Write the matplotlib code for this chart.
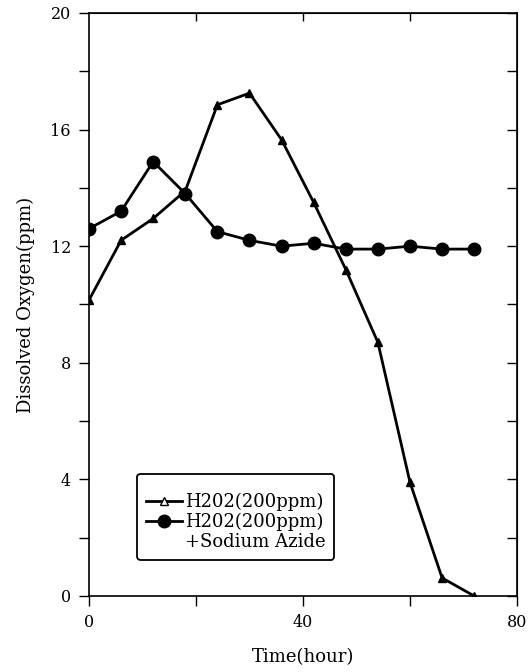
import numpy as np
import matplotlib.pyplot as plt
from matplotlib.lines import Line2D

# sampling times (hour)
time_h = [0, 6, 12, 18, 24, 30, 36, 42, 48, 54, 60, 66, 72]
# dissolved oxygen (ppm)
h2o2_only = [10.15, 12.2, 12.95, 13.9, 16.85, 17.25, 15.65, 13.5, 11.2, 8.7, 3.9, 0.62, 0.0]
h2o2_azide = [12.6, 13.2, 14.9, 13.8, 12.5, 12.2, 12.0, 12.1, 11.9, 11.9, 12.0, 11.9, 11.9]

label_1 = "H202(200ppm)"
label_2 = "H202(200ppm)"
label_3 = "+Sodium Azide"

x_ticks = [0, 20, 40, 60, 80]
x_ticklabels = ["0", "", "40", "", "80"]
y_ticks = [0, 4, 8, 12, 16, 20]
y_minor = [2, 6, 10, 14, 18]

plt.rcParams["font.family"] = ["DejaVu Serif"]

fig = plt.figure(figsize=(5.31, 6.72), dpi=100)
ax = fig.add_axes([0.1676, 0.1131, 0.8060, 0.8676])

ax.plot(time_h, h2o2_only, "-^", color="black", lw=2.0, ms=5.5,
        mfc="black", mec="black")
ax.plot(time_h, h2o2_azide, "-o", color="black", lw=2.0, ms=9,
        mfc="black", mec="black")

ax.set_xlim(0, 80)
ax.set_ylim(0, 20)
ax.set_xticks(x_ticks)
ax.set_xticklabels(x_ticklabels)
ax.set_yticks(y_ticks)
ax.set_yticks(y_minor, minor=True)
ax.tick_params(axis="both", which="both", direction="out", length=7,
               width=1.0, labelsize=11.5, pad=6)

for s in ax.spines.values():
    s.set_linewidth(1.2)

# inward ticks on right and top
ax_r = ax.secondary_yaxis("right")
ax_r.set_yticks(y_ticks + y_minor)
ax_r.tick_params(direction="in", length=7, width=1.0, labelright=False)
ax_t = ax.secondary_xaxis("top")
ax_t.set_xticks([20, 40, 60])
ax_t.tick_params(direction="in", length=6, width=1.0, labeltop=False)

ax.set_xlabel("Time(hour)", fontsize=13, labelpad=12)
ax.set_ylabel("Dissolved Oxygen(ppm)", fontsize=13, labelpad=11)

handles = [
    Line2D([], [], color="black", lw=2.0, marker="^", ms=6, mfc="white", mec="black"),
    Line2D([], [], color="black", lw=2.0, marker="o", ms=9, mfc="black", mec="black"),
    Line2D([], [], color="none"),
]
leg = ax.legend(handles, [label_1, label_2, label_3], title=" ",
                loc="lower left", bbox_to_anchor=(0.112, 0.062),
                borderaxespad=0, fontsize=13, handlelength=2.0,
                handletextpad=0.15, labelspacing=0.1, borderpad=0.5,
                fancybox=True, framealpha=1, edgecolor="black")
leg.get_frame().set_linewidth(1.3)
leg.get_title().set_fontsize(6)

fig.savefig("out.png", dpi=100)
